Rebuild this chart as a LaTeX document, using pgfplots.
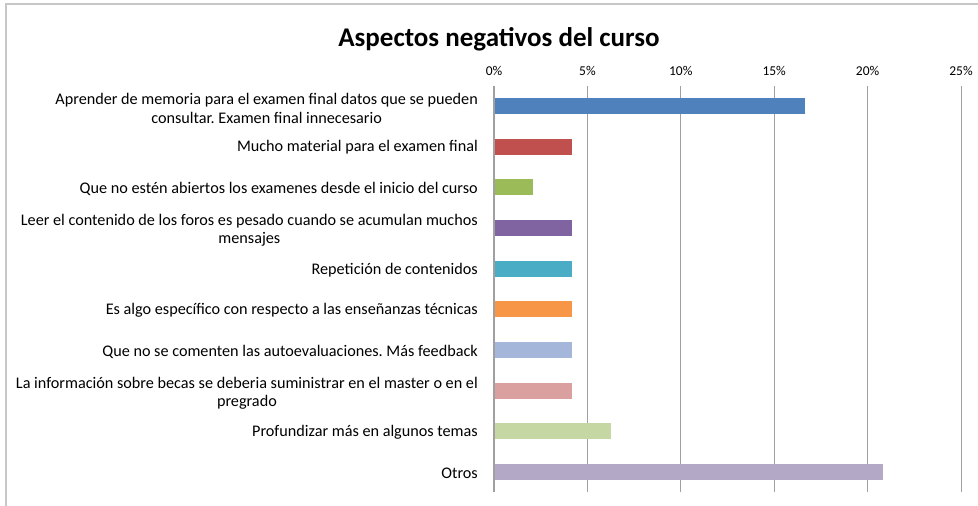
\documentclass[border=0pt]{standalone}
\usepackage{pgfplots}
\pgfplotsset{compat=1.18}
\usepackage{fontspec}
\setmainfont{Carlito}
\frenchspacing
\definecolor{c1}{HTML}{4F81BD}
\definecolor{c2}{HTML}{C0504D}
\definecolor{c3}{HTML}{9BBB59}
\definecolor{c4}{HTML}{8064A2}
\definecolor{c5}{HTML}{4BACC6}
\definecolor{c6}{HTML}{F79646}
\definecolor{c7}{HTML}{A4B7DA}
\definecolor{c8}{HTML}{D9A09F}
\definecolor{c9}{HTML}{C5D7A2}
\definecolor{c10}{HTML}{B3A9C7}
\definecolor{gridc}{HTML}{A0A0A0}
\begin{document}
\begin{tikzpicture}[x=1pt,y=1pt]
\path[use as bounding box] (0,0) rectangle (978,506);
\draw[color=black!22,line width=1.5pt] (6,0) -- (6,502) -- (978,502);
\node[font=\fontsize{27}{32}\selectfont\bfseries] at (499,467) {Aspectos negativos del curso};
\begin{axis}[
  at={(494pt,14pt)}, anchor=south west,
  scale only axis, width=467pt, height=406pt,
  xmin=0, xmax=25, ymin=-0.5, ymax=9.5, y dir=reverse,
  axis x line*=top, axis y line=none,
  xtick={0,5,10,15,20,25},
  xticklabel={\pgfmathprintnumber{\tick}\%},
  xticklabel style={font=\fontsize{13.5}{16}\selectfont, yshift=7pt},
  /pgf/number format/assume math mode=true,
  major tick length=0pt,
  xmajorgrids, grid style={gridc, line width=1pt},
  x axis line style={draw=none},
  ytick={0,...,9},
  yticklabels={},
  clip=false,
]
\addplot[xbar, bar width=16pt, draw=none, fill=c1] coordinates {(16.67,0)};
\addplot[xbar, bar width=16pt, draw=none, fill=c2] coordinates {(4.17,1)};
\addplot[xbar, bar width=16pt, draw=none, fill=c3] coordinates {(2.08,2)};
\addplot[xbar, bar width=16pt, draw=none, fill=c4] coordinates {(4.17,3)};
\addplot[xbar, bar width=16pt, draw=none, fill=c5] coordinates {(4.17,4)};
\addplot[xbar, bar width=16pt, draw=none, fill=c6] coordinates {(4.17,5)};
\addplot[xbar, bar width=16pt, draw=none, fill=c7] coordinates {(4.17,6)};
\addplot[xbar, bar width=16pt, draw=none, fill=c8] coordinates {(4.17,7)};
\addplot[xbar, bar width=16pt, draw=none, fill=c9] coordinates {(6.25,8)};
\addplot[xbar, bar width=16pt, draw=none, fill=c10] coordinates {(20.83,9)};
\draw[gridc, line width=1.3pt] (axis cs:0,-0.5) -- (axis cs:0,9.5);
\end{axis}
\begin{scope}[every node/.style={anchor=east, align=center, font=\fontsize{16.2}{18.5}\selectfont, inner sep=0pt}]
\node at (478,397.5) {Aprender de memoria para el examen final datos que se pueden\\consultar. Examen final innecesario};
\node at (478,358.5) {Mucho material para el examen final};
\node at (478,317.5) {Que no estén abiertos los examenes desde el inicio del curso};
\node at (478,275.5) {Leer el contenido de los foros es pesado cuando se acumulan muchos\\mensajes};
\node at (478,236) {Repetición de contenidos};
\node at (478,195.5) {Es algo específico con respecto a las enseñanzas técnicas};
\node at (478,154.5) {Que no se comenten las autoevaluaciones. Más feedback};
\node at (478,112.5) {La información sobre becas se deberia suministrar en el master o en el\\pregrado};
\node at (478,73.5) {Profundizar más en algunos temas};
\node at (478,32.5) {Otros};
\end{scope}
\end{tikzpicture}
\end{document}
